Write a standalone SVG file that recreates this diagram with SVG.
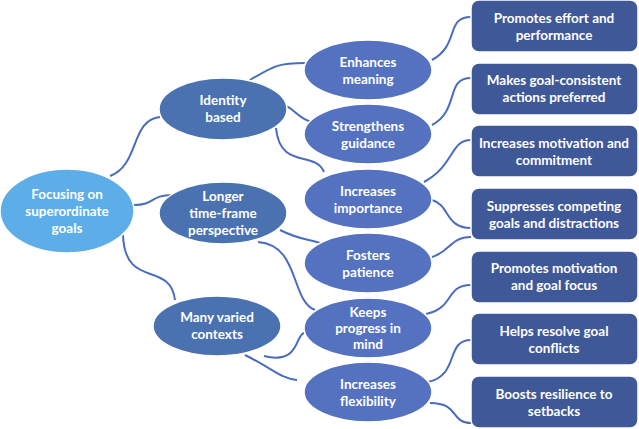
<svg xmlns="http://www.w3.org/2000/svg" width="639" height="429" viewBox="0 0 639 429">
<style>
text{font-family:Lato,"Liberation Sans",sans-serif;font-weight:bold;font-size:13.5px;fill:#fff;text-anchor:middle}
.r{fill:#5DADE8;stroke:#fff;stroke-width:1.5}
.a{fill:#4A72B0;stroke:#fff;stroke-width:1.5}
.b{fill:#5472C0;stroke:#fff;stroke-width:1.5}
.x{fill:#3F5898;stroke:#fff;stroke-width:1.5}
#c path{fill:none;stroke:#4A6CC0;stroke-width:2}
</style>
<rect width="639" height="429" fill="#fff"/>
<g id="c">
<path d="M110 176 C140 165,130 120,160 117"/>
<path d="M134 205 C155 205,150 195,172 195"/>
<path d="M123 235 C125 290,170 260,175 300"/>
<path d="M250 80 C275 65,280 63,305 63"/>
<path d="M274 102 C295 105,295 118,312 122"/>
<path d="M276 128 C280 170,315 150,324 172"/>
<path d="M280 230 C300 240,305 238,320 243"/>
<path d="M258 242 C300 245,290 300,315 310"/>
<path d="M264 356 C300 365,295 335,304 333"/>
<path d="M245 355 C275 370,280 378,297 380"/>
<path d="M432 60 C460 45,445 17,471 17"/>
<path d="M432 125 C460 110,445 78,471 78"/>
<path d="M424 182 C455 165,450 140,471 140"/>
<path d="M432 200 C450 205,445 228,471 228"/>
<path d="M432 257 C450 252,450 237,471 237"/>
<path d="M426 314 C455 308,445 285,471 285"/>
<path d="M428 382 C460 375,445 340,471 340"/>
<path d="M430 403 C460 403,450 423,471 423"/>
</g>
<g id="root"><ellipse class="r" cx="67" cy="211" rx="67" ry="42"/><text x="67" y="199">Focusing on</text><text x="67" y="216">superordinate</text><text x="67" y="233">goals</text></g>
<g id="identity"><ellipse class="a" cx="223" cy="109" rx="64" ry="31"/><text x="223" y="105">Identity</text><text x="223" y="122">based</text></g>
<g id="longer"><ellipse class="a" cx="223" cy="213" rx="64" ry="31"/><text x="223" y="201">Longer</text><text x="223" y="218">time-frame</text><text x="223" y="235">perspective</text></g>
<g id="many"><ellipse class="a" cx="217" cy="326" rx="64" ry="30"/><text x="217" y="322">Many varied</text><text x="217" y="339">contexts</text></g>
<g id="enh"><ellipse class="b" cx="368" cy="70" rx="64" ry="30"/><text x="368" y="67">Enhances</text><text x="368" y="84">meaning</text></g>
<g id="str"><ellipse class="b" cx="368" cy="134" rx="64" ry="30"/><text x="368" y="131">Strengthens</text><text x="368" y="148">guidance</text></g>
<g id="imp"><ellipse class="b" cx="368" cy="199" rx="64" ry="30"/><text x="368" y="196">Increases</text><text x="368" y="213">importance</text></g>
<g id="fos"><ellipse class="b" cx="368" cy="263" rx="64" ry="30"/><text x="368" y="260">Fosters</text><text x="368" y="277">patience</text></g>
<g id="kee"><ellipse class="b" cx="368" cy="328" rx="64" ry="30"/><text x="368" y="317">Keeps</text><text x="368" y="333">progress in</text><text x="368" y="349">mind</text></g>
<g id="flx"><ellipse class="b" cx="368" cy="392" rx="64" ry="30"/><text x="368" y="389">Increases</text><text x="368" y="406">flexibility</text></g>
<g id="b1"><rect class="x" x="471" y="0" width="167" height="52" rx="8"/><text x="554" y="23">Promotes effort and</text><text x="554" y="40">performance</text></g>
<g id="b2"><rect class="x" x="471" y="63" width="167" height="52" rx="8"/><text x="554" y="85">Makes goal-consistent</text><text x="554" y="102">actions preferred</text></g>
<g id="b3"><rect class="x" x="471" y="125" width="167" height="52" rx="8"/><text x="554" y="148">Increases motivation and</text><text x="554" y="165">commitment</text></g>
<g id="b4"><rect class="x" x="471" y="188" width="167" height="52" rx="8"/><text x="554" y="211">Suppresses competing</text><text x="554" y="228">goals and distractions</text></g>
<g id="b5"><rect class="x" x="471" y="251" width="167" height="52" rx="8"/><text x="554" y="273">Promotes motivation</text><text x="554" y="290">and goal focus</text></g>
<g id="b6"><rect class="x" x="471" y="313" width="167" height="52" rx="8"/><text x="554" y="336">Helps resolve goal</text><text x="554" y="353">conflicts</text></g>
<g id="b7"><rect class="x" x="471" y="376" width="167" height="52" rx="8"/><text x="554" y="399">Boosts resilience to</text><text x="554" y="416">setbacks</text></g>
</svg>
